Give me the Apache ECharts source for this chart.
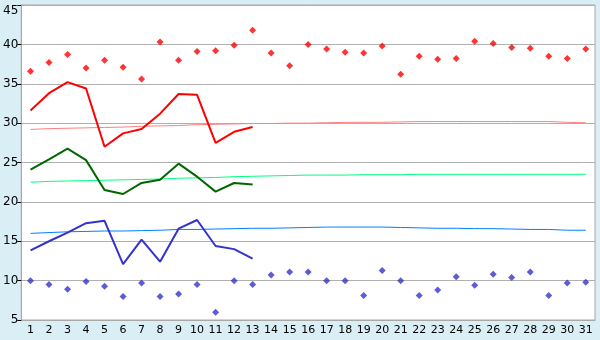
<!DOCTYPE html>
<head>
    <meta charset="utf-8">
    <title>Temperatures</title>
    <script src="https://cdn.jsdelivr.net/npm/echarts@6/dist/echarts.min.js"></script>
    <style>
        body { margin: 0; background: #daeef6; }
    </style>
</head>
<body>
    <div id="main" style="width:600px;height:340px"></div>
    <script type="text/javascript">
        var days = [];
        for (var d = 1; d <= 31; d++) days.push(String(d));

        // record highs / lows (markers)
        var recordMax = [36.6, 37.7, 38.7, 37.0, 38.0, 37.1, 35.6, 40.3, 38.0, 39.1,
                         39.2, 39.9, 41.8, 38.9, 37.3, 40.0, 39.4, 39.0, 38.9, 39.8,
                         36.2, 38.5, 38.1, 38.2, 40.4, 40.1, 39.6, 39.5, 38.5, 38.2, 39.4];
        var recordMin = [10.0, 9.5, 8.9, 9.9, 9.3, 8.0, 9.7, 8.0, 8.3, 9.5,
                         6.0, 10.0, 9.5, 10.7, 11.1, 11.1, 10.0, 10.0, 8.1, 11.3,
                         10.0, 8.1, 8.8, 10.5, 9.4, 10.8, 10.4, 11.1, 8.1, 9.7, 9.8];

        // this month (first 13 days)
        var dayMax = [31.6, 33.8, 35.2, 34.4, 27.0, 28.7, 29.25, 31.2, 33.7, 33.6, 27.5, 28.9, 29.5];
        var dayAvg = [24.1, 25.4, 26.75, 25.3, 21.5, 21.0, 22.4, 22.8, 24.85, 23.2, 21.3, 22.4, 22.2];
        var dayMin = [13.85, 15.0, 16.1, 17.3, 17.6, 12.1, 15.2, 12.4, 16.6, 17.7, 14.4, 14.0, 12.8];

        // normals
        var normMax = [29.2, 29.3, 29.35, 29.4, 29.45, 29.5, 29.6, 29.65, 29.7, 29.8,
                       29.85, 29.9, 29.95, 29.95, 30.0, 30.0, 30.05, 30.1, 30.1, 30.1,
                       30.15, 30.2, 30.2, 30.2, 30.2, 30.2, 30.2, 30.2, 30.2, 30.1, 30.05];
        var normAvg = [22.5, 22.6, 22.65, 22.7, 22.75, 22.8, 22.85, 22.9, 23.0, 23.05,
                       23.1, 23.2, 23.25, 23.3, 23.35, 23.4, 23.4, 23.4, 23.45, 23.45,
                       23.45, 23.5, 23.5, 23.5, 23.5, 23.5, 23.5, 23.5, 23.5, 23.5, 23.5];
        var normMin = [16.0, 16.1, 16.2, 16.25, 16.3, 16.3, 16.35, 16.4, 16.5, 16.5,
                       16.55, 16.6, 16.65, 16.65, 16.7, 16.75, 16.8, 16.8, 16.8, 16.8,
                       16.75, 16.7, 16.65, 16.65, 16.6, 16.6, 16.55, 16.5, 16.5, 16.4, 16.4];

        var myChart = echarts.init(document.getElementById('main'));

        function thin(name, data, color) {
            return { name: name, type: 'line', data: data, symbol: 'none',
                     lineStyle: { color: color, width: 1 }, z: 2 };
        }
        function thick(name, data, color) {
            return { name: name, type: 'line', data: data, symbol: 'none',
                     lineStyle: { color: color, width: 2 }, z: 3 };
        }
        function dots(name, data, color) {
            return { name: name, type: 'scatter', data: data, symbol: 'diamond',
                     symbolSize: 7, itemStyle: { color: color }, z: 4 };
        }

        var option = {
            animation: false,
            backgroundColor: '#daeef6',
            textStyle: { fontFamily: 'DejaVu Sans' },
            grid: { left: 20, right: 5, top: 5, bottom: 20, show: true,
                    backgroundColor: '#ffffff', borderColor: '#a8a8a8', borderWidth: 1 },
            xAxis: {
                type: 'category',
                data: days,
                boundaryGap: true,
                axisLine: { lineStyle: { color: '#a8a8a8' } },
                axisTick: { alignWithLabel: true, length: 5, lineStyle: { color: '#000' } },
                axisLabel: { color: '#000', fontSize: 11, margin: 5, interval: 0 }
            },
            yAxis: {
                type: 'value',
                min: 5, max: 45, interval: 5,
                axisLine: { show: true, lineStyle: { color: '#a8a8a8' } },
                axisTick: { show: true, length: 4, lineStyle: { color: '#000' } },
                axisLabel: { color: '#000', fontSize: 12, margin: 3,
                             verticalAlignMaxLabel: 'top', lineHeight: 12 },
                splitLine: { lineStyle: { color: '#b0b0b0' } }
            },
            series: [
                thin('normMax', normMax, '#ff8080'),
                thin('normAvg', normAvg, '#00ff80'),
                thin('normMin', normMin, '#0080ff'),
                thick('dayMax', dayMax, '#ff0000'),
                thick('dayAvg', dayAvg, '#006600'),
                thick('dayMin', dayMin, '#3333cc'),
                dots('recordMax', recordMax, '#ff0000'),
                dots('recordMin', recordMin, '#3333cc')
            ]
        };
        myChart.setOption(option);
    </script>
</body>
